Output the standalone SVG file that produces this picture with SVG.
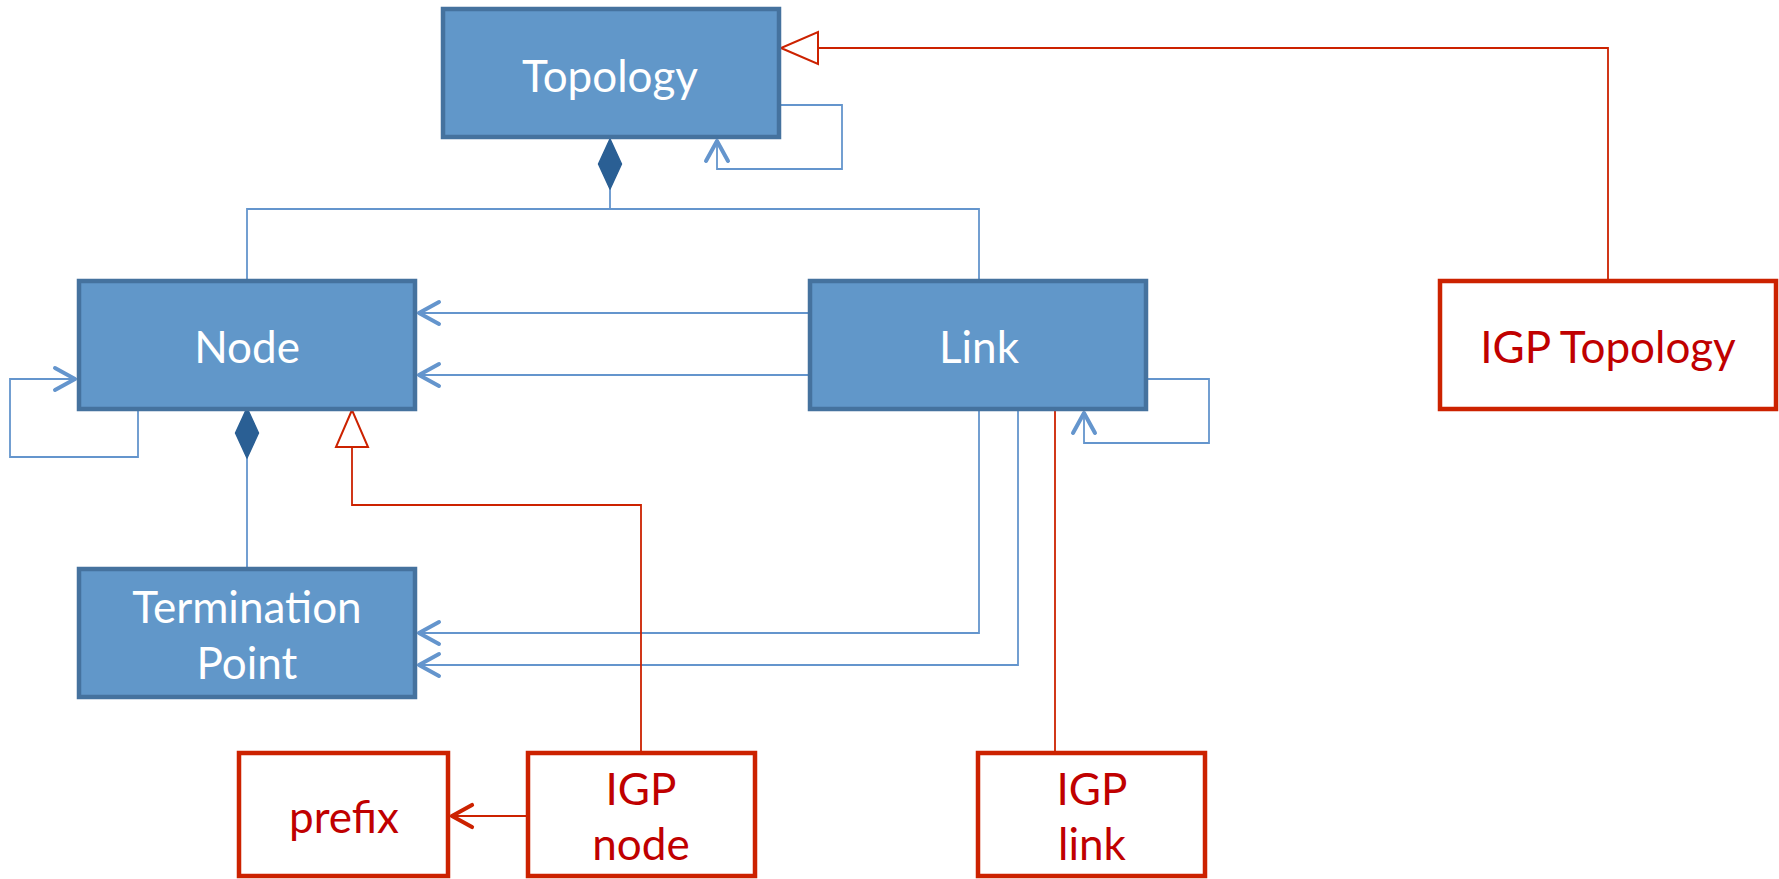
<svg xmlns="http://www.w3.org/2000/svg" width="1779" height="879" viewBox="0 0 1779 879">
<style>
.cls{fill:#6197C9;stroke:#45729E;stroke-width:4.5}
.ext{fill:#FFFFFF;stroke:#CC2200;stroke-width:4.5}
.lbl{font-family:Lato,"Liberation Sans",sans-serif;font-size:44px;text-anchor:middle}
.lw{fill:#FFFFFF}
.lr{fill:#C00000}
.cb{fill:none;stroke:#6495CD;stroke-width:1.8}
.cr{fill:none;stroke:#CC2200;stroke-width:1.8}
</style>
<defs>
<marker id="openBlue" viewBox="-26 -14 30 28" refX="0" refY="0" markerWidth="30" markerHeight="28" markerUnits="userSpaceOnUse" orient="auto">
<path d="M-21,-11 L-1,0 L-21,11" fill="none" stroke="#6495CD" stroke-width="4" stroke-linecap="round" stroke-linejoin="round"/>
</marker>
<marker id="openRed" viewBox="-26 -14 30 28" refX="0" refY="0" markerWidth="30" markerHeight="28" markerUnits="userSpaceOnUse" orient="auto">
<path d="M-21,-11 L-1,0 L-21,11" fill="none" stroke="#CC2200" stroke-width="4.2" stroke-linecap="round" stroke-linejoin="round"/>
</marker>
<marker id="diamond" viewBox="-52 -14 54 28" refX="0" refY="0" markerWidth="54" markerHeight="28" markerUnits="userSpaceOnUse" orient="auto">
<path d="M0,0 L-25,-11.5 L-50,0 L-25,11.5 Z" fill="#2A5F94" stroke="#2A5F94" stroke-width="1.5" stroke-linejoin="round"/>
</marker>
<marker id="triRed" viewBox="-40 -18 42 36" refX="0" refY="0" markerWidth="42" markerHeight="36" markerUnits="userSpaceOnUse" orient="auto">
<path d="M0,0 L-37,-16 L-37,16 Z" fill="#FFFFFF" stroke="#CC2200" stroke-width="2"/>
</marker>
</defs>
<g id="connectors">
<path class="cb" d="M781,105 H842 V169 H717 V140" marker-end="url(#openBlue)"/>
<path class="cb" d="M247,279 V209 H979 V279"/>
<path class="cb" d="M610,209 V139" marker-end="url(#diamond)"/>
<path class="cb" d="M808,313 H418" marker-end="url(#openBlue)"/>
<path class="cb" d="M808,375 H418" marker-end="url(#openBlue)"/>
<path class="cb" d="M138,411 V457 H10 V379 H76" marker-end="url(#openBlue)"/>
<path class="cb" d="M247,567 V408" marker-end="url(#diamond)"/>
<path class="cb" d="M979,411 V633 H418" marker-end="url(#openBlue)"/>
<path class="cb" d="M1018,411 V665 H418" marker-end="url(#openBlue)"/>
<path class="cb" d="M1148,379 H1209 V443 H1084 V412" marker-end="url(#openBlue)"/>
<path class="cr" d="M1608,279 V48 H781" marker-end="url(#triRed)"/>
<path class="cr" d="M641,751 V505 H352 V410" marker-end="url(#triRed)"/>
<path class="cr" d="M1055,751 V411"/>
<path class="cr" d="M526,816 H451" marker-end="url(#openRed)"/>
</g>
<g id="topology">
<rect class="cls" x="443" y="9" width="336" height="128"/>
<text class="lbl lw" x="610" y="92">Topology</text>
</g>
<g id="node">
<rect class="cls" x="79" y="281" width="336" height="128"/>
<text class="lbl lw" x="247" y="363">Node</text>
</g>
<g id="link">
<rect class="cls" x="810" y="281" width="336" height="128"/>
<text class="lbl lw" x="979" y="363">Link</text>
</g>
<g id="termination-point">
<rect class="cls" x="79" y="569" width="336" height="128"/>
<text class="lbl lw" x="247" y="623">Termination</text>
<text class="lbl lw" x="247" y="679">Point</text>
</g>
<g id="igp-topology">
<rect class="ext" x="1440" y="281" width="336" height="128"/>
<text class="lbl lr" x="1608" y="363">IGP Topology</text>
</g>
<g id="prefix">
<rect class="ext" x="239" y="753" width="209" height="123"/>
<text class="lbl lr" x="344" y="833">prefix</text>
</g>
<g id="igp-node">
<rect class="ext" x="528" y="753" width="227" height="123"/>
<text class="lbl lr" x="641" y="805">IGP</text>
<text class="lbl lr" x="641" y="860">node</text>
</g>
<g id="igp-link">
<rect class="ext" x="978" y="753" width="227" height="123"/>
<text class="lbl lr" x="1092" y="805">IGP</text>
<text class="lbl lr" x="1092" y="860">link</text>
</g>
</svg>
